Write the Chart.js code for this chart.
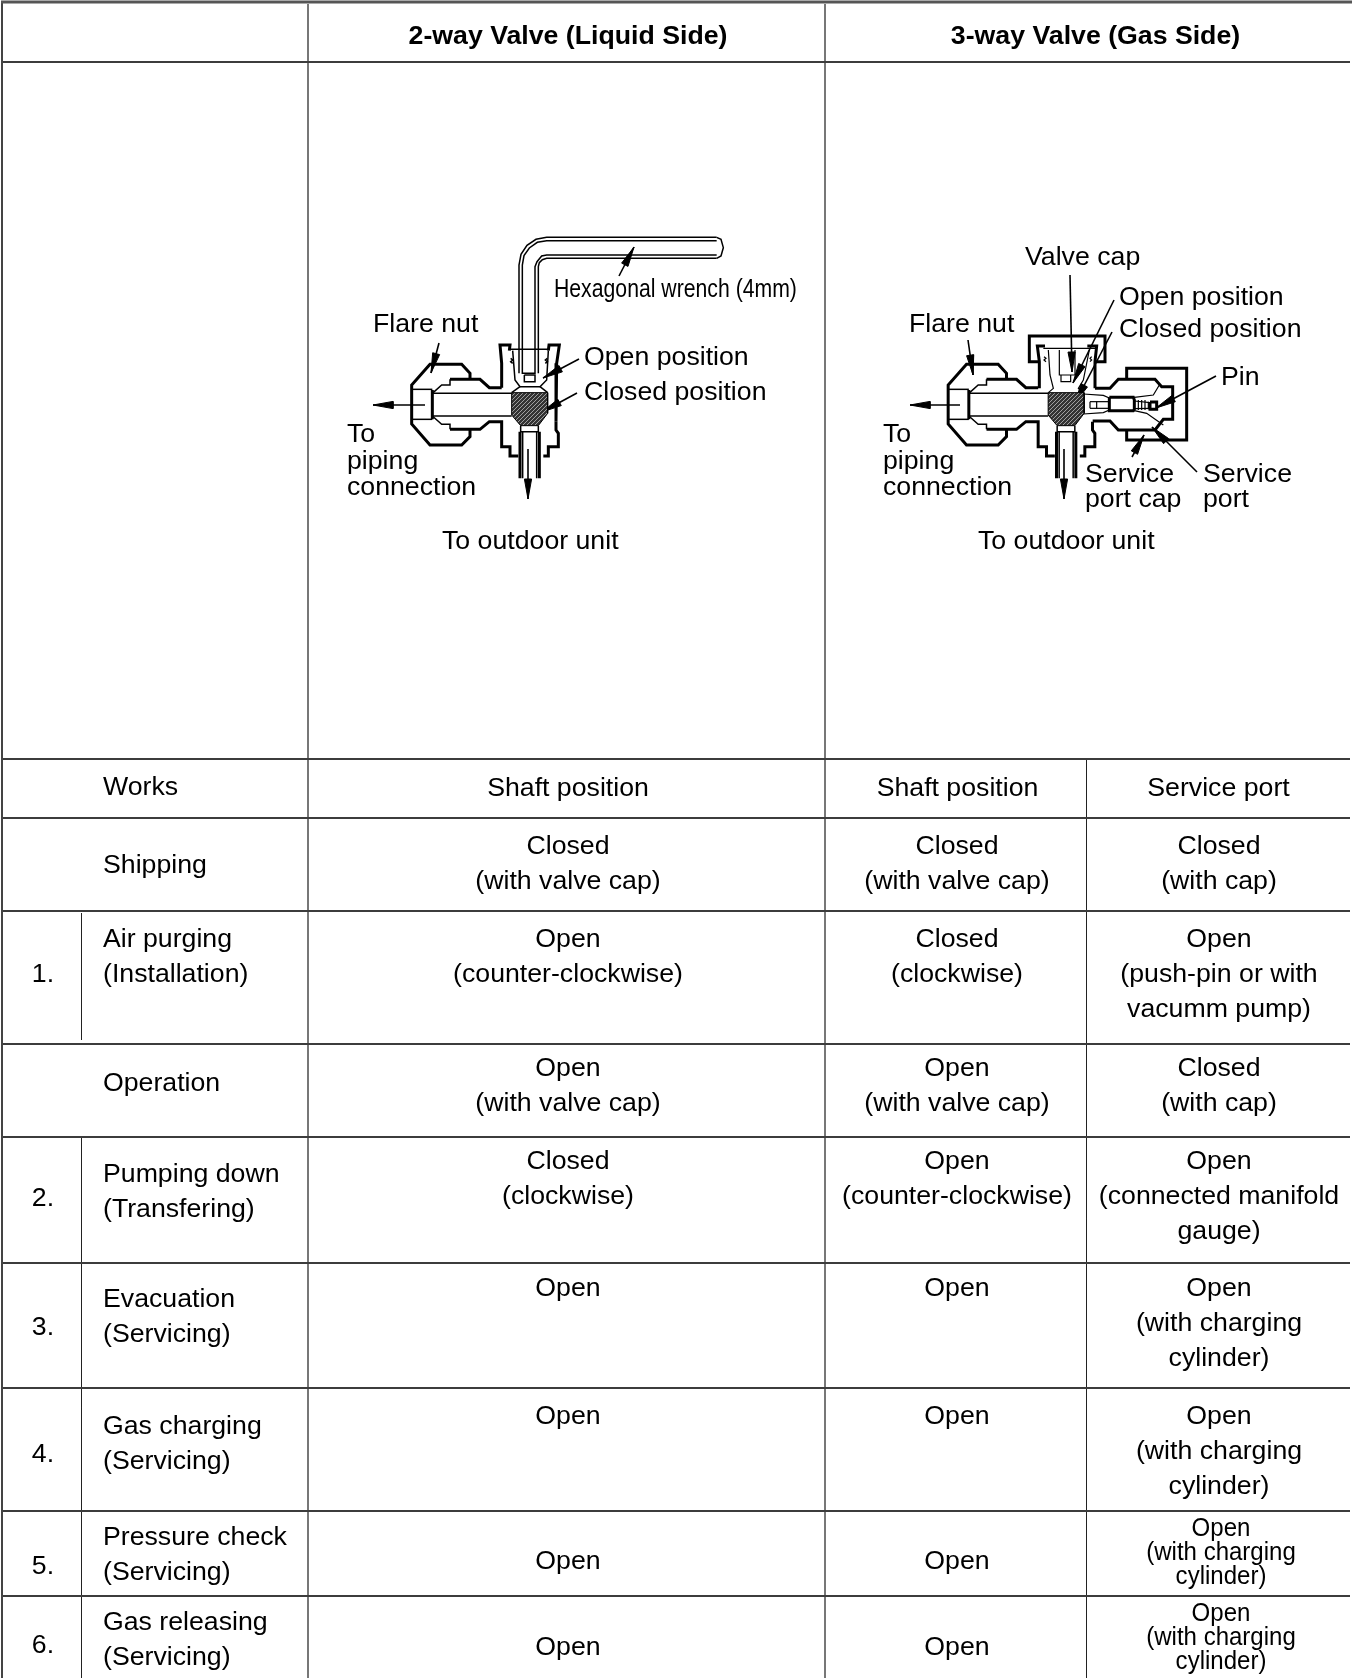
<!DOCTYPE html>
<html>
<head>
<meta charset="utf-8">
<title>Valve positions</title>
<script src="https://cdn.jsdelivr.net/npm/chart.js@4"></script>
<style>
  html, body { margin: 0; padding: 0; background: #fff; }
  canvas { display: block; }
</style>
</head>
<body>
<canvas id="valveTable" width="1352" height="1678"></canvas>
<script>
// table content
const headers = ['2-way Valve (Liquid Side)', '3-way Valve (Gas Side)'];
const columnTitles = ['Works', 'Shaft position', 'Shaft position', 'Service port'];
const steps = ['', '1.', '', '2.', '3.', '4.', '5.', '6.'];
const works = [
    ['Shipping'], ['Air purging', '(Installation)'], ['Operation'], ['Pumping down', '(Transfering)'],
    ['Evacuation', '(Servicing)'], ['Gas charging', '(Servicing)'], ['Pressure check', '(Servicing)'], ['Gas releasing', '(Servicing)']
];
const liquidShaft = [
    ['Closed', '(with valve cap)'], ['Open', '(counter-clockwise)'], ['Open', '(with valve cap)'], ['Closed', '(clockwise)'],
    ['Open'], ['Open'], ['Open'], ['Open']
];
const gasShaft = [
    ['Closed', '(with valve cap)'], ['Closed', '(clockwise)'], ['Open', '(with valve cap)'], ['Open', '(counter-clockwise)'],
    ['Open'], ['Open'], ['Open'], ['Open']
];
const servicePort = [
    ['Closed', '(with cap)'], ['Open', '(push-pin or with', 'vacumm pump)'], ['Closed', '(with cap)'], ['Open', '(connected manifold', 'gauge)'],
    ['Open', '(with charging', 'cylinder)'], ['Open', '(with charging', 'cylinder)'], ['Open', '(with charging', 'cylinder)'], ['Open', '(with charging', 'cylinder)']
];

// table layout, in page units
const rowLines = [62, 759, 818, 911, 1044, 1137, 1263, 1388, 1511, 1596];
const worksY = [873, 947, 1091, 1182, 1307, 1434, 1545, 1630];
const stepsY = [0, 982, 0, 1206, 1335, 1462, 1574, 1653];
const liquidY = [854, 947, 1076, 1169, 1296, 1424, 1569, 1655];
const portY = [854, 947, 1076, 1169, 1296, 1424, 1536, 1621];

// drawing labels: text, x, baseline
const drawingLabels = [
    ['Flare nut', 373, 332], ['Open position', 584, 365], ['Closed position', 584, 400],
    ['To', 347, 442], ['piping', 347, 469], ['connection', 347, 495], ['To outdoor unit', 442, 549],
    ['Valve cap', 1025, 265], ['Open position', 1119, 305], ['Closed position', 1119, 337],
    ['Flare nut', 909, 332], ['To', 883, 442], ['piping', 883, 469], ['connection', 883, 495],
    ['To outdoor unit', 978, 549], ['Pin', 1221, 385], ['Service', 1085, 482], ['port cap', 1085, 507],
    ['Service', 1203, 482], ['port', 1203, 507]
];

// valve body outline, shared by both valves
const bodyThick = [
    [[210,150],[210,130],[185,103],[90,103],[35,165],[35,282],[90,345],[185,345],[210,320],[210,298]],
    [[150,148],[240,148],[268,173],[305,173]],
    [[150,298],[240,298],[268,275],[305,275],[305,350],[330,350],[330,378],[355,378]],
    [[468,275],[468,300],[475,310],[475,350],[445,350],[445,378],[430,378]],
    [[360,305],[360,445]], [[418,305],[418,445]], [[97,180],[97,268]]
];
const bodyThin = [
    [[35,178],[97,178]], [[35,268],[97,268]],
    [[97,190],[125,165],[150,165],[150,148]], [[97,258],[125,283],[150,283],[150,298]],
    [[97,190],[335,190]], [[97,258],[335,258]],
    [[368,305],[368,445]], [[410,305],[410,445]],
    [[362,287],[362,305],[415,305],[415,287]]
];
const hatchShape = [[335,188],[443,188],[443,250],[415,287],[362,287],[335,255],[335,188]];

// top of the 2-way valve
const liquidTopThick = [
    [[305,173],[305,100],[300,45],[330,45],[328,62]],
    [[445,62],[447,45],[478,45],[470,100],[468,100],[468,275]]
];
const liquidTopThin = [
    [[330,58],[445,58]],
    [[338,62],[345,150],[360,170],[420,170],[440,150],[445,62]],
    [[360,170],[335,188]], [[420,170],[443,188]],
    [[332,85],[338,90],[332,95],[338,100]], [[442,85],[436,90],[442,95],[436,100]],
    [[373,135],[405,135],[405,155],[373,155],[373,135]]
];

// hexagonal wrench
const wrenchLines = [
    [[1190,82],[680,82],[648,88],[621,106],[603,133],[597,165],[597,490]],
    [[1190,92],[680,92],[652,97],[628,114],[612,137],[607,165],[607,490],[645,490],[645,170],[651,155],[665,138],[680,135],[1190,135]],
    [[1190,145],[680,145],[667,149],[658,158],[655,170],[655,490]],
    [[1190,82],[1203,88],[1210,113],[1203,138],[1190,145]]
];

// top and service port of the 3-way valve
const gasThick = [
    [[120,125],[88,125],[88,48],[315,48],[315,125],[285,125]],
    [[118,205],[118,125],[112,78],[135,78]],
    [[262,78],[290,78],[285,125],[285,205]],
    [[285,205],[330,205],[355,178],[465,178],[485,200],[518,200],[518,298],[490,298],[465,330],[355,330],[330,303],[278,303]],
    [[380,178],[380,145],[560,145],[560,360],[380,360],[380,330]],
    [[328,232],[400,232],[403,240],[403,268],[400,272],[328,272],[328,232]],
    [[450,246],[470,246],[470,268],[450,268],[450,246]]
];
const gasThin = [
    [[130,85],[285,85]],
    [[145,90],[150,165],[160,205],[145,218]], [[268,90],[250,180],[235,205],[250,218]],
    [[178,90],[178,165],[225,165],[225,90]], [[183,165],[183,185],[212,185],[212,165]],
    [[250,222],[310,226],[328,234]], [[250,282],[310,278],[328,270]],
    [[403,232],[460,225],[478,195]], [[403,272],[440,280],[490,315]],
    [[270,245],[328,245]], [[270,265],[328,265]], [[270,245],[270,265]], [[290,245],[290,265]],
    [[403,243],[450,248]], [[403,266],[450,265]], [[415,240],[415,270]], [[425,240],[425,270]], [[435,240],[435,270]], [[445,245],[445,268]],
    [[132,110],[138,115],[132,120],[138,125]], [[275,110],[270,115],[275,120],[270,125]]
];

// leaders: from, tip
const arrows = [
    [[619,276],[634,247]], [[439,343],[431,373]], [[579,359],[543,378]], [[577,393],[542,412]],
    [[425,405],[373,405]], [[528,449],[528,499]],
    [[1070,275],[1072,372]], [[1114,300],[1073,383]], [[1112,332],[1075,403]], [[1216,376],[1156,408]],
    [[1197,472],[1152,427]], [[1132,457],[1144,435]], [[968,340],[973,375]], [[960,405],[910,405]], [[1064,449],[1064,499]]
];

const BLACK = '#000';
const SECOND_VALVE = 536.5;

function at(ox, oy, points) {
    return points.map(p => ({ x: ox + p[0] / 3, y: oy + p[1] / 3 }));
}

function path(points, width, color) {
    return { data: points, borderColor: color || BLACK, borderWidth: width, pointRadius: 0, fill: false, tension: 0 };
}

function arrowHead(from, tip) {
    const dx = tip[0] - from[0], dy = tip[1] - from[1];
    const len = Math.hypot(dx, dy), ux = dx / len, uy = dy / len;
    const bx = tip[0] - ux * 20, by = tip[1] - uy * 20;
    return [
        { x: tip[0], y: tip[1] },
        { x: bx - uy * 3.6, y: by + ux * 3.6 },
        { x: bx + uy * 3.6, y: by - ux * 3.6 },
        { x: tip[0], y: tip[1] }
    ];
}

function hatchPattern() {
    const tile = document.createElement('canvas');
    tile.width = tile.height = 4;
    const c = tile.getContext('2d');
    c.fillStyle = '#333';
    c.fillRect(0, 0, 4, 4);
    c.strokeStyle = '#bbb';
    c.lineWidth = 0.8;
    c.beginPath();
    c.moveTo(-1, 5);
    c.lineTo(5, -1);
    c.stroke();
    return c.createPattern(tile, 'repeat');
}

function buildDatasets() {
    const sets = [];
    const line = (x1, y1, x2, y2, w, color) => sets.push(path([{ x: x1, y: y1 }, { x: x2, y: y2 }], w, color));

    // table rules
    line(1, 2, 1352, 2, 3, '#555');
    line(2, 1, 2, 1678, 2, '#444');
    rowLines.forEach(y => line(2, y, 1350, y, 2, '#3c3c3c'));
    line(308, 4, 308, 1678, 2, '#777');
    line(825, 4, 825, 1678, 2, '#777');
    line(1086.5, 759, 1086.5, 1678, 1, '#222');
    line(81.5, 913, 81.5, 1040, 1, '#222');
    line(81.5, 1137, 81.5, 1678, 1, '#222');

    // both valve bodies
    [0, SECOND_VALVE].forEach(shift => {
        bodyThick.forEach(p => sets.push(path(at(400 + shift, 330, p), 3)));
        bodyThin.forEach(p => sets.push(path(at(400 + shift, 330, p), 1.5)));
        const hatch = path(at(400 + shift, 330, hatchShape), 1);
        hatch.fill = 'shape';
        hatch.backgroundColor = hatchPattern();
        sets.push(hatch);
    });

    liquidTopThick.forEach(p => sets.push(path(at(400, 330, p), 3)));
    liquidTopThin.forEach(p => sets.push(path(at(400, 330, p), 1.5)));
    wrenchLines.forEach(p => sets.push(path(at(320, 210, p), 1.5)));
    gasThick.forEach(p => sets.push(path(at(1000, 320, p), 3)));
    gasThin.forEach(p => sets.push(path(at(1000, 320, p), 1.2)));

    arrows.forEach(a => {
        line(a[0][0], a[0][1], a[1][0], a[1][1], 1.6);
        const head = path(arrowHead(a[0], a[1]), 1);
        head.fill = 'shape';
        head.backgroundColor = BLACK;
        sets.push(head);
    });
    return sets;
}

// every text goes through the same scales as the rules
const textPlugin = {
    id: 'tableText',
    afterDatasetsDraw(chart) {
        const { ctx, scales } = chart;
        const put = (text, x, y, opts = {}) => {
            ctx.save();
            ctx.font = (opts.bold ? 'bold ' : '') + '26.7px "Liberation Sans", Arial, sans-serif';
            ctx.fillStyle = BLACK;
            ctx.textBaseline = 'alphabetic';
            ctx.textAlign = opts.align || 'left';
            ctx.translate(scales.x.getPixelForValue(x), scales.y.getPixelForValue(y));
            ctx.scale(opts.squeeze || 1, 1);
            ctx.fillText(text, 0, 0);
            ctx.restore();
        };
        const center = { align: 'center' };
        const stack = (lines, x, y, step, opts) => lines.forEach((t, i) => put(t, x, y + i * step, opts));

        put(headers[0], 568, 44, { align: 'center', bold: true });
        put(headers[1], 1095.5, 44, { align: 'center', bold: true });

        put(columnTitles[0], 103, 795);
        put(columnTitles[1], 568, 796, center);
        put(columnTitles[2], 957.5, 796, center);
        put(columnTitles[3], 1218.5, 796, center);

        works.forEach((lines, i) => {
            stack(lines, 103, worksY[i], 34.5);
            if (steps[i]) put(steps[i], 43, stepsY[i], center);
            stack(liquidShaft[i], 568, liquidY[i], 34.8, center);
            stack(gasShaft[i], 957, liquidY[i], 34.8, center);
            const small = i >= 6;
            const portX = small ? 1221 : 1219;
            stack(servicePort[i], portX, portY[i], small ? 24 : 34.8, small ? { align: 'center', squeeze: 0.9 } : center);
        });

        drawingLabels.forEach(l => put(l[0], l[1], l[2]));
        put('Hexagonal wrench (4mm)', 554, 297, { squeeze: 0.795 });
    }
};

new Chart(document.getElementById('valveTable'), {
    type: 'line',
    data: { datasets: buildDatasets() },
    options: {
        responsive: false,
        animation: false,
        events: [],
        parsing: false,
        layout: { padding: 0 },
        scales: {
            x: { type: 'linear', min: 0, max: 1352, display: false },
            y: { type: 'linear', min: 0, max: 1678, reverse: true, display: false }
        },
        plugins: { legend: { display: false }, tooltip: { enabled: false } }
    },
    plugins: [textPlugin]
});
</script>
</body>
</html>
